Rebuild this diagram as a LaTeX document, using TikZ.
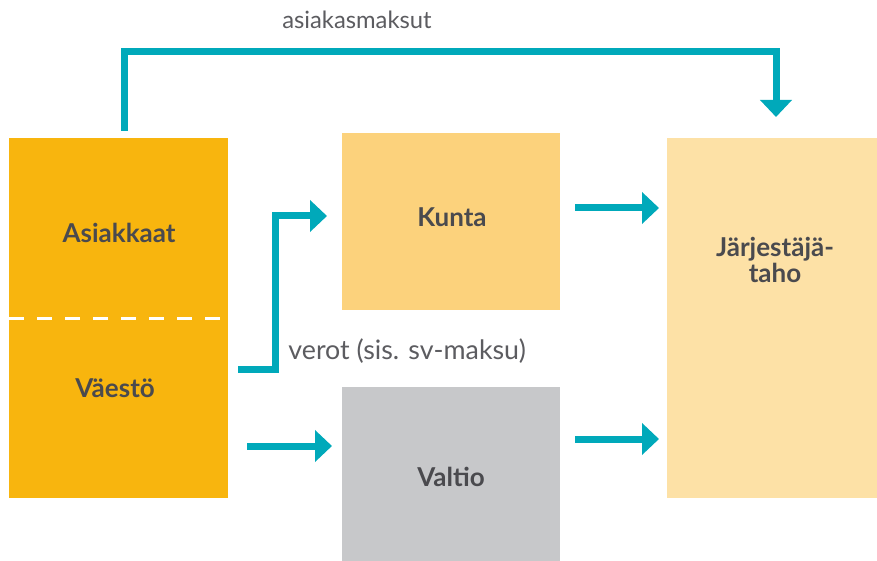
\documentclass[tikz,border=0pt]{standalone}
\usepackage{fontspec}
\setmainfont{Lato}
\usetikzlibrary{arrows.meta, positioning, calc}
\definecolor{virta}{RGB}{0,169,186}
\definecolor{oranssi}{RGB}{248,181,14}
\definecolor{keltainen}{RGB}{252,210,124}
\definecolor{vaalea}{RGB}{253,225,166}
\definecolor{harmaa}{RGB}{199,200,202}
\definecolor{teksti}{RGB}{74,74,78}
\tikzset{
    laatikko/.style = {draw=none, inner sep=0pt, anchor=north west},
    nimi/.style     = {font=\bfseries\fontsize{13}{12.8}\selectfont, text=teksti, align=center, inner sep=0pt},
    selite/.style   = {font=\fontsize{12.5}{15}\selectfont, text=teksti!90, inner sep=0pt},
    virtaus/.style  = {-{Triangle[width=15.5pt, length=8.5pt]}, line width=3.5pt, virta},
}

\begin{document}
\begin{tikzpicture}[x=0.5pt, y=-0.5pt]
    \useasboundingbox (0,0) rectangle (877,561);
    % laatikot
    \node[laatikko, fill=oranssi, minimum width=109.5pt, minimum height=90pt] (asiakkaat) at (9,138) {};
    \node[laatikko, fill=oranssi, minimum width=109.5pt, minimum height=90pt] (vaesto) at (9,318) {};
    \node[laatikko, fill=keltainen, minimum width=109pt, minimum height=88.5pt] (kunta) at (342,133) {};
    \node[laatikko, fill=harmaa, minimum width=109pt, minimum height=87pt] (valtio) at (342,387) {};
    \node[laatikko, fill=vaalea, minimum width=105pt, minimum height=180pt] (jarj) at (667,138) {};
    \draw[white, line width=1.5pt, dash pattern=on 7.5pt off 6.5pt] (vaesto.north west) -- (vaesto.north east);
    % tekstit
    \node[nimi] (t-asiakkaat) at (119,233) {Asiakkaat};
    \node[nimi] (t-vaesto) at (115,388) {Väestö};
    \node[nimi] (t-kunta) at (452,217) {Kunta};
    \node[nimi] (t-valtio) at (451,477) {Valtio};
    \node[nimi] (t-jarj) at (775,260) {Järjestäjä-\\taho};
    \node[selite, font=\fontsize{11.9}{14}\selectfont] (t-maksut) at (357,20) {asiakasmaksut};
    \node[selite, font=\fontsize{13.4}{16}\selectfont, anchor=west] (t-verot) at (288,351) {verot (sis. sv-maksu)};
    % nuolten päät
    \coordinate (m1) at (124,131);
    \coordinate (m2) at (776,117);
    \coordinate (v1) at (238,369);
    \coordinate (v2) at (327,216);
    \coordinate (w1) at (247,446);
    \coordinate (w2) at (332,446);
    \coordinate (k1) at (575,208);
    \coordinate (k2) at (659,208);
    \coordinate (h1) at (575,439);
    \coordinate (h2) at (659,439);
    % nuolet
    \draw[virtaus] (m1) -- (124,52) -| (m2);
    \draw[virtaus] (v1) -- ++(37,0) |- (v2);
    \draw[virtaus] (w1) -- (w2);
    \draw[virtaus] (k1) -- (k2);
    \draw[virtaus] (h1) -- (h2);
\end{tikzpicture}
\end{document}
